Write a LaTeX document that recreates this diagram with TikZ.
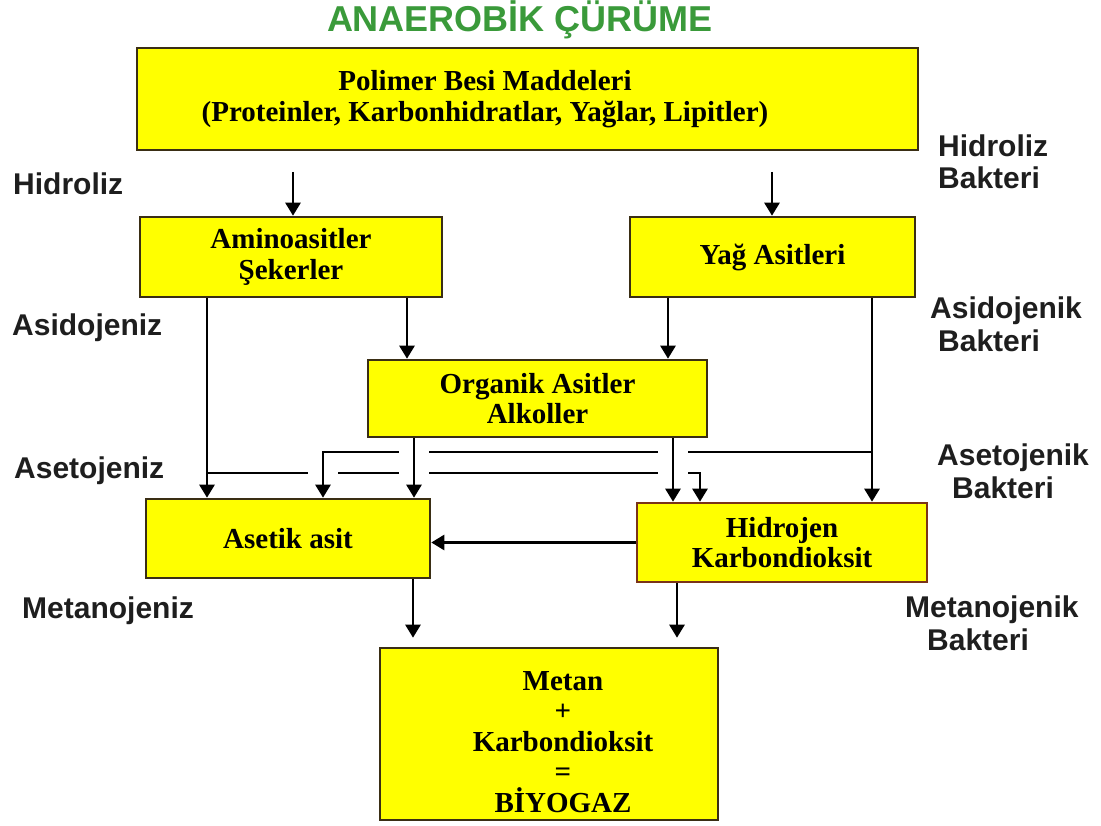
\documentclass[tikz,border=0pt]{standalone}
\usepackage{fontspec}
\setmainfont{Liberation Serif}
\setsansfont{Liberation Sans}
\usetikzlibrary{arrows.meta,calc,positioning}
\definecolor{boxfill}{HTML}{FFFF00}
\definecolor{boxline}{HTML}{3A2E14}
\definecolor{gasline}{HTML}{7A3418}
\definecolor{titlegreen}{HTML}{3A9A3A}
\definecolor{stagegray}{HTML}{1E1E1E}
\newcommand\boxfont{\bfseries\fontsize{29}{30.5}\selectfont}
\newcommand\stagefont{\sffamily\bfseries\fontsize{30}{33}\selectfont}
\newcommand\titlefont{\sffamily\bfseries\fontsize{36}{38}\selectfont}

\begin{document}
\begin{tikzpicture}[x=1pt,y=-1pt,
    box/.style={rectangle, draw=boxline, fill=boxfill, line width=2.6pt,
                inner sep=0pt, align=center, font=\boxfont},
    boxtext/.style={inner sep=0pt, align=center, font=\boxfont},
    stage/.style={inner sep=0pt, anchor=base west, font=\stagefont, text=stagegray},
    arr/.style={line width=2.7pt, -{Triangle[width=15pt,length=13pt]}},
    hop/.style={draw=white, line width=30pt, line cap=butt}]
    \useasboundingbox (0,0) rectangle (1101,826);

    % title
    \node[font=\titlefont, text=titlegreen, anchor=base] (title) at (520,32) {ANAEROBİK ÇÜRÜME};

    % boxes
    \node[box, minimum width=781pt, minimum height=102pt] (polimer) at (527.5,99) {};
    \node[boxtext] (polimer-text) at (485,99)
        {Polimer Besi Maddeleri\\(Proteinler, Karbonhidratlar, Yağlar, Lipitler)};
    \node[box, minimum width=302pt, minimum height=80pt] (amino) at (291,257) {Aminoasitler\\Şekerler};
    \node[box, minimum width=285pt, minimum height=80pt] (yag) at (772.5,257) {Yağ Asitleri};
    \node[box, minimum width=339pt, minimum height=77pt] (organik) at (537.5,398.5) {Organik Asitler\\Alkoller};
    \node[box, minimum width=284pt, minimum height=79pt] (asetik) at (288,538.5) {Asetik asit};
    \node[box, draw=gasline, minimum width=290pt, minimum height=79pt] (hidrojen) at (782,542.5) {Hidrojen\\Karbondioksit};
    \node[box, minimum width=338pt, minimum height=172pt] (metan) at (549,734) {};
    \node[boxtext, font=\bfseries\fontsize{29}{30.5}\selectfont] (metan-text) at (563,742)
        {Metan\\+\\Karbondioksit\\=\\BİYOGAZ};

    % stage labels, left
    \node[stage] (hidroliz) at (13,195) {Hidroliz};
    \node[stage] (asidojeniz) at (12,336) {Asidojeniz};
    \node[stage] (asetojeniz) at (14,478) {Asetojeniz};
    \node[stage] (metanojeniz) at (22,618) {Metanojeniz};

    % bacteria labels, right
    \node[stage] (hidroliz-b) at (938,157) {Hidroliz};
    \node[stage] (bakteri-1) at (938,189) {Bakteri};
    \node[stage] (asidojenik) at (930,319) {Asidojenik};
    \node[stage] (bakteri-2) at (938,352) {Bakteri};
    \node[stage] (asetojenik) at (937,465) {Asetojenik};
    \node[stage] (bakteri-3) at (952,498) {Bakteri};
    \node[stage] (metanojenik) at (905,617) {Metanojenik};
    \node[stage] (bakteri-4) at (927,650) {Bakteri};

    % columns and rows
    \coordinate (k207) at (207,0);
    \coordinate (k293) at (293,0);
    \coordinate (k323) at (323,0);
    \coordinate (k407) at (407,0);
    \coordinate (k413) at (413,0);
    \coordinate (k414) at (414,0);
    \coordinate (k668) at (668,0);
    \coordinate (k673) at (673,0);
    \coordinate (k677) at (677,0);
    \coordinate (k700) at (700,0);
    \coordinate (k772) at (772,0);
    \coordinate (k872) at (872,0);
    \coordinate (hyd) at (0,172);
    \coordinate (hi) at (0,452);
    \coordinate (lo) at (0,473);

    % hydrolysis
    \draw[arr] (k293 |- hyd) -- (k293 |- amino.north);
    \draw[arr] (k772 |- hyd) -- (k772 |- yag.north);
    % acidogenesis
    \draw[arr] (k407 |- amino.south) -- (k407 |- organik.north);
    \draw[arr] (k668 |- yag.south) -- (k668 |- organik.north);
    \draw[arr] (k207 |- amino.south) -- (k207 |- asetik.north);
    \draw[arr] (k872 |- yag.south) -- (k872 |- hidrojen.north);
    % acetogenesis, crossing lines
    \draw[arr] (k207 |- lo) -- (k700 |- lo) -- (k700 |- hidrojen.north);
    \draw[hop] ($(k323 |- lo)+(0,-7)$) -- ($(k323 |- lo)+(0,7)$);
    \draw[arr] (k872 |- hi) -- (k323 |- hi) -- (k323 |- asetik.north);
    \foreach \k in {k414,k673}
        \draw[hop] ($(\k |- hi)+(0,-7)$) -- ($(\k |- lo)+(0,7)$);
    \draw[arr] (k414 |- organik.south) -- (k414 |- asetik.north);
    \draw[arr] (k673 |- organik.south) -- (k673 |- hidrojen.north);
    \draw[arr] (hidrojen.west) -- (hidrojen.west -| asetik.east);
    % methanogenesis
    \draw[arr, shorten >=9pt] (k413 |- asetik.south) -- (k413 |- metan.north);
    \draw[arr, shorten >=9pt] (k677 |- hidrojen.south) -- (k677 |- metan.north);
\end{tikzpicture}
\end{document}
